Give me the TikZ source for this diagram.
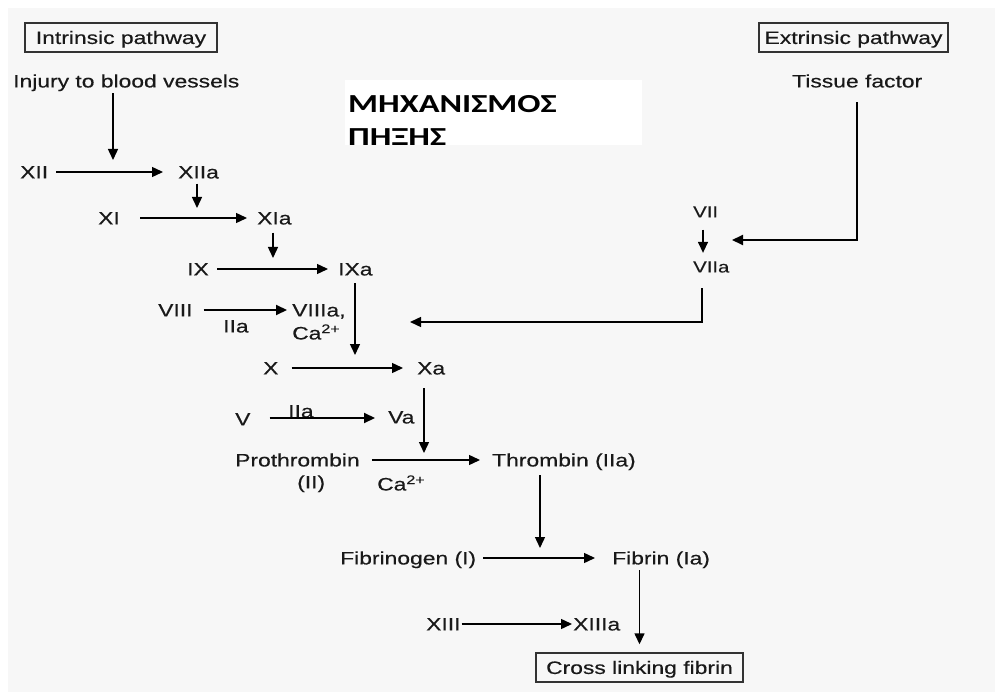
\documentclass[tikz,border=0pt]{standalone}
\usepackage{fontspec}
\setmainfont[FakeStretch=1.27,FakeBold=0.4]{Liberation Sans}
\newfontfamily\titlefont[FakeStretch=1.32]{Carlito}
\usetikzlibrary{arrows.meta}
\definecolor{bg}{HTML}{F7F7F7}
\begin{document}
\begin{tikzpicture}[x=1pt,y=-1pt,
  every node/.style={font=\fontsize{18}{20}\selectfont, text=black!90},
  lbl/.style={inner sep=0pt, text height=12.9pt, text depth=0pt, anchor=west},
  small/.style={font=\fontsize{16}{18}\selectfont},
  pbox/.style={draw=black!80, line width=1.4pt, inner sep=0pt, text height=12.9pt, text depth=0pt, minimum height=29pt},
  arr/.style={line width=1.4pt, -{Triangle[length=11pt,width=10pt]}},
  tarr/.style={arr, line width=2.1pt}]
\useasboundingbox (0,0) rectangle (995,692);
\fill[white] (0,0) rectangle (995,692);
\fill[bg] (8,8) rectangle (995,692);
\fill[white] (345,80) rectangle (642,145);
\node[anchor=north west, inner sep=0pt, align=left, text=black, font=\titlefont\bfseries\fontsize{26}{33}\selectfont] (title) at (348,95) {ΜΗΧΑΝΙΣΜΟΣ\\ΠΗΞΗΣ};

% boxes
\node[pbox, minimum width=192pt] (intr) at (121,37.5) {Intrinsic pathway};
\node[pbox, minimum width=189pt] (extr) at (853.5,37.5) {Extrinsic pathway};
\node[pbox, minimum width=207pt] (cross) at (639.5,667.5) {Cross linking fibrin};

% labels
\node[lbl] (injury) at (13,81) {Injury to blood vessels};
\node[lbl] (tissue) at (792,81) {Tissue factor};
\node[lbl] (xii) at (20,172) {XII};
\node[lbl] (xiia) at (178,172) {XIIa};
\node[lbl] (xi) at (98,218) {XI};
\node[lbl] (xia) at (257,218) {XIa};
\node[lbl] (ix) at (187,269) {IX};
\node[lbl] (ixa) at (338,269) {IXa};
\node[lbl] (viii) at (158,310) {VIII};
\node[lbl] (viiia) at (292,310) {VIIIa,};
\node[lbl] (iia1) at (223,326) {IIa};
\node[lbl] (ca1) at (292,333) {Ca\textsuperscript{2+}};
\node[lbl] (x) at (263,368) {X};
\node[lbl] (xa) at (417,368) {Xa};
\node[lbl] (v) at (235,419) {V};
\node[lbl] (va) at (388,417) {Va};
\node[lbl] (iia2) at (288,411) {IIa};
\node[lbl] (pro) at (235,460) {Prothrombin};
\node[lbl] (ii) at (297,482) {(II)};
\node[lbl] (ca2) at (377,484) {Ca\textsuperscript{2+}};
\node[lbl] (thr) at (492,460) {Thrombin (IIa)};
\node[lbl] (fibg) at (340,558) {Fibrinogen (I)};
\node[lbl] (fibn) at (612,558) {Fibrin (Ia)};
\node[lbl] (xiii) at (426,624) {XIII};
\node[lbl] (xiiia) at (573,624) {XIIIa};
\node[lbl, small] (vii) at (693,211) {VII};
\node[lbl, small] (viia) at (693,266) {VIIa};

% free ends and guide coordinates
\coordinate (cxii) at (113,160);
\coordinate (cxi) at (197,208);
\coordinate (cix) at (273,258);
\coordinate (cx) at (355,355);
\coordinate (cviii) at (410,322);
\coordinate (vx) at (702,0);
\coordinate (cvii) at (732,240);
\coordinate (tx) at (857,0);
\coordinate (cpro) at (424,453);
\coordinate (cfib) at (540,548);
\coordinate (vy) at (703,0);

% horizontal arrows
\draw[arr, shorten <=8pt, shorten >=15pt] (xii.east) -- (xii.east -| xiia.west);
\draw[arr, shorten <=20pt, shorten >=10pt] (xi.east) -- (xi.east -| xia.west);
\draw[arr, shorten <=8pt, shorten >=10pt] (ix.east) -- (ix.east -| ixa.west);
\draw[tarr, shorten <=11pt, shorten >=5pt] (viii.east) -- (viii.east -| viiia.west);
\draw[arr, shorten <=13pt, shorten >=14pt] (x.east) -- (x.east -| xa.west);
\draw[tarr, shorten <=19pt, shorten >=13pt] ([yshift=1pt]v.east) -- ([yshift=1pt]v.east -| va.west);
\draw[arr, shorten <=12pt, shorten >=12pt] (pro.east) -- (pro.east -| thr.west);
\draw[arr, shorten <=7pt, shorten >=17pt] (fibg.east) -- (fibg.east -| fibn.west);
\draw[arr, shorten <=1pt, shorten >=1pt] (xiii.east) -- (xiii.east -| xiiia.west);

% vertical arrows
\draw[arr, shorten <=5.5pt] (injury.south -| cxii) -- (cxii);
\draw[arr, shorten <=5pt] (xiia.south -| cxi) -- (cxi);
\draw[arr, shorten <=8pt] (xia.south -| cix) -- (cix);
\draw[arr, shorten <=7.5pt] (ixa.south -| cx) -- (cx);
\draw[arr, shorten <=12pt, shorten >=6.5pt] (vii.south -| vy) -- (viia.north -| vy);
\draw[arr, shorten <=15.5pt] (viia.south -| vx) |- (cviii);
\draw[tarr, shorten <=14.5pt] (tissue.south -| tx) |- (cvii);
\draw[arr, shorten <=13.5pt] (xa.south -| cpro) -- (cpro);
\draw[arr, shorten <=8.5pt] (thr.south -| cfib) -- (cfib);
\draw[arr, shorten <=5.5pt, shorten >=8pt] (fibn.south -| cross.north) -- (cross.north);
\end{tikzpicture}
\end{document}
